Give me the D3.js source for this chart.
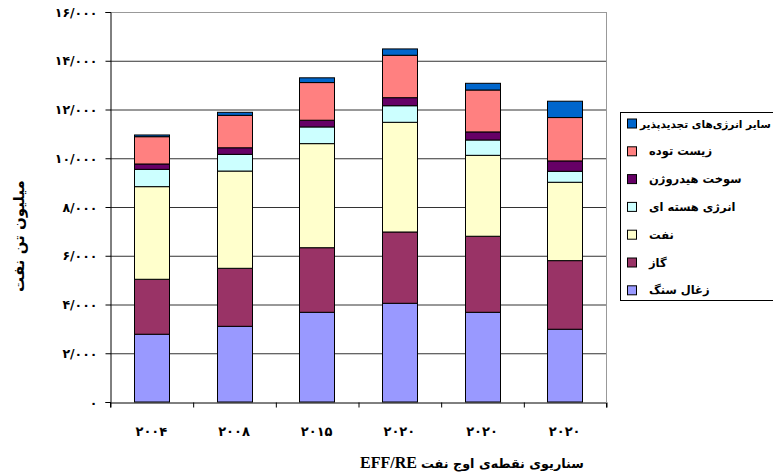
<!DOCTYPE html>
<html><head><meta charset="utf-8">
<script src="https://cdn.jsdelivr.net/npm/d3@7"></script>
<style>body{margin:0;background:#fff}svg{display:block}</style>
</head><body>
<script>
const categories = ["۲۰۰۴","۲۰۰۸","۲۰۱۵","۲۰۲۰","۲۰۲۰","۲۰۲۰"];
const seriesNames = ["زغال سنگ","گاز","نفت","انرژی هسته ای","سوخت هیدروژن","زیست توده","سایر انرژی‌های تجدیدپذیر"];
const seriesColors = ["#9999FF","#993366","#FFFFCC","#CCFFFF","#660066","#FF8080","#0066CC"];
const coal     = [2780, 3105, 3680, 4050, 3680, 2985];
const gas      = [2255, 2380, 2650, 2925, 3120, 2815];
const oil      = [3800, 3990, 4270, 4500, 3320, 3215];
const nuclear  = [710, 685, 685, 680, 630, 450];
const hydrogen = [220, 270, 275, 330, 330, 425];
const biomass  = [1120, 1330, 1545, 1740, 1720, 1780];
const otherRen = [70, 125, 195, 260, 275, 670];
const yTicks = [0,2000,4000,6000,8000,10000,12000,14000,16000];
const yTitle = "میلیون تن نفت";
const xTitleLatin = "EFF/RE";
const xTitleFa = "سناریوی نقطه‌ی اوج نفت";

const W = 773, H = 476;
const m = {left:110, right:W-606, top:12, bottom:H-402};
const pw = W - m.left - m.right, ph = H - m.top - m.bottom;
const svg = d3.select("body").append("svg").attr("width",W).attr("height",H);
const FONT = "'DejaVu Sans', sans-serif";

const seriesVals = [coal,gas,oil,nuclear,hydrogen,biomass,otherRen];
const rows = categories.map((c,i)=>{const o={i}; seriesNames.forEach((s,k)=>o[s]=seriesVals[k][i]); return o;});
const stack = d3.stack().keys(seriesNames)(rows);

const x = d3.scaleBand().domain(d3.range(categories.length)).range([m.left, m.left+pw]).paddingInner(0.577).paddingOuter(0.2885);
const y = d3.scaleLinear().domain([0,16000]).range([m.top+ph, m.top]);
const fa = d3.formatLocale({decimal:".", thousands:"/", grouping:[3], currency:["",""], numerals:["۰","۱","۲","۳","۴","۵","۶","۷","۸","۹"]});
const fmt = fa.format(",");

// gridlines
svg.append("g").selectAll("line").data(yTicks.slice(1)).join("line")
  .attr("x1",m.left).attr("x2",m.left+pw).attr("y1",d=>y(d)+0.5).attr("y2",d=>y(d)+0.5)
  .attr("stroke",(d)=>d===16000?"#999":"#333").attr("stroke-width",1);
svg.append("line").attr("x1",m.left+pw+0.5).attr("x2",m.left+pw+0.5).attr("y1",m.top).attr("y2",m.top+ph)
  .attr("stroke","#999");

// bars
svg.append("g").selectAll("g").data(stack).join("g").attr("fill",(d,k)=>seriesColors[k])
  .selectAll("rect").data(d=>d).join("rect")
  .attr("x",(d,i)=>Math.round(x(i))+0.5).attr("width",Math.round(x.bandwidth()))
  .attr("y",d=>y(d[1])).attr("height",d=>y(d[0])-y(d[1]))
  .attr("stroke","#000").attr("stroke-width",1);

// y axis
const ya = svg.append("g").attr("transform",`translate(${m.left+0.5},0)`)
  .call(d3.axisLeft(y).tickValues(yTicks).tickFormat(fmt).tickSize(5).tickPadding(8));
ya.select(".domain").attr("stroke","#000");
ya.selectAll("text").attr("font-family",FONT).attr("font-weight","bold").attr("font-size",12.5).attr("fill","#000");

// x axis (boundary ticks)
const xb = d3.scaleLinear().domain([0,categories.length]).range([m.left, m.left+pw]);
const xa = svg.append("g").attr("transform",`translate(0,${m.top+ph+0.5})`)
  .call(d3.axisBottom(xb).tickValues(d3.range(categories.length+1)).tickFormat("").tickSize(5));
xa.selectAll("line").attr("transform","translate(0.5,0)");
const xl = svg.append("g").attr("transform",`translate(0,${m.top+ph})`)
  .call(d3.axisBottom(x).tickFormat(i=>categories[i]).tickSize(0).tickPadding(25));
xl.select(".domain").remove();
xl.selectAll("text").attr("font-family",FONT).attr("font-weight","bold").attr("font-size",13).attr("fill","#000");

// axis titles
svg.append("text").attr("transform","translate(24,236) rotate(-90)").attr("text-anchor","middle")
  .attr("font-family",FONT).attr("font-weight","bold").attr("font-size",15).text(yTitle);
const xt = svg.append("text").attr("x",360).attr("y",468).attr("text-anchor","start").attr("direction","ltr")
  .attr("font-weight","bold");
xt.append("tspan").attr("font-family","'Liberation Serif', serif").attr("font-size",16).text(xTitleLatin + " ");
const faSpan = xt.append("tspan").attr("font-family",FONT).attr("font-size",14.5).text(xTitleFa);
{
  const w = xt.node().getComputedTextLength();
  if (w > 224) faSpan.attr("font-size", 14.5 * (1 - (w-224)/faSpan.node().getComputedTextLength()));
}

// legend
const lg = svg.append("g");
lg.append("rect").attr("x",620.5).attr("y",112.5).attr("width",200).attr("height",188).attr("fill","#fff").attr("stroke","#000");
const order = d3.range(seriesNames.length).reverse();
const li = lg.selectAll("g.li").data(order).join("g").attr("class","li")
  .attr("transform",(d,j)=>`translate(627,${123.5+j*27.8})`);
li.append("rect").attr("x",0.5).attr("y",-4.5).attr("width",9).attr("height",9).attr("fill",d=>seriesColors[d]).attr("stroke","#000");
li.append("text").attr("x",(d,j)=>j===0?13:22).attr("y",4).attr("font-family",FONT).attr("font-weight","bold").attr("font-size",11.5)
  .text(d=>seriesNames[d])
  .each(function(d,j){
    const avail = 771 - (627 + (j===0?13:22));
    const w = this.getComputedTextLength();
    if (w > avail) d3.select(this).attr("font-size", 11.5*avail/w);
  });
</script>
</body></html>
